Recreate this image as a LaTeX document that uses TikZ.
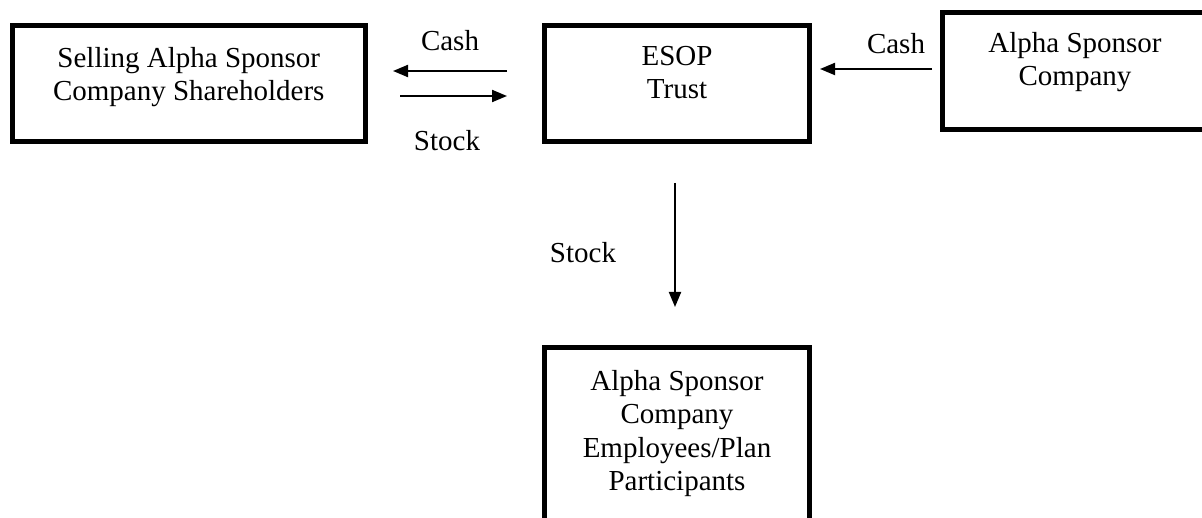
\documentclass[tikz,border=0pt]{standalone}
\usepackage{fontspec}
\setmainfont{Liberation Serif}
\usetikzlibrary{arrows.meta}
\begin{document}
\begin{tikzpicture}[x=1pt,y=-1pt,
  box/.style={draw, line width=5pt, inner sep=0pt, minimum width=265pt, minimum height=116pt},
  txt/.style={inner sep=0pt, anchor=north, align=center, font=\fontsize{29}{33.5}\selectfont},
  arr/.style={line width=2pt, -{Triangle[length=15pt,width=12pt]}}]
\useasboundingbox (0,0) rectangle (1202,518);
\fill[white] (0,0) rectangle (1202,518);
\clip (0,0) rectangle (1202,518);
% boxes
\node[box, minimum width=352.5pt, minimum height=116pt] (sell) at (188.75,83.5) {};
\node[box, minimum height=116.5pt] (esop) at (677,83.75) {};
\node[box, minimum height=117pt] (alpha) at (1075,71) {};
\node[box, minimum height=175pt] (emp) at (677,435) {};
% texts
\node[txt] (sellt) at (188.75,47) {Selling Alpha Sponsor\\Company Shareholders};
\node[txt] (esopt) at (677,46) {ESOP\\Trust};
\node[txt] (alphat) at (1075,32) {Alpha Sponsor\\Company};
\node[txt] (empt) at (677,370) {Alpha Sponsor\\Company\\Employees/Plan\\Participants};
% labels
\node[txt] (cash1) at (450,30) {Cash};
\node[txt] (stock1) at (447,130) {Stock};
\node[txt] (cash2) at (896,33) {Cash};
\node[txt] (stock2) at (583,242) {Stock};
% arrow end points
\coordinate (a1s) at (507,71);
\coordinate (a1e) at (393,71);
\coordinate (a2s) at (400,96);
\coordinate (a2e) at (507,96);
\coordinate (a3s) at (932,69);
\coordinate (a3e) at (820,69);
\coordinate (a4s) at (675,183);
\coordinate (a4e) at (675,307);
\draw[arr] (a1s) -- (a1e);
\draw[arr] (a2s) -- (a2e);
\draw[arr] (a3s) -- (a3e);
\draw[arr] (a4s) -- (a4e);
\end{tikzpicture}
\end{document}
